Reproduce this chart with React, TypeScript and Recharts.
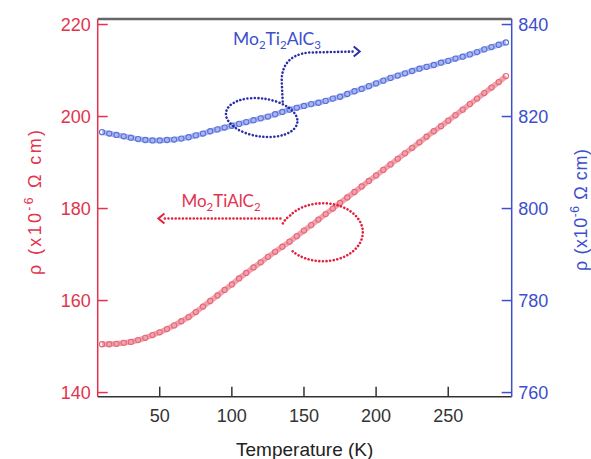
import React from 'react';
import { LineChart, Line, XAxis, YAxis, ReferenceDot, ReferenceLine, Label } from 'recharts';

// Temperature (K)
const temperatures = [
  10, 15, 20, 25, 30, 35, 40, 45, 50, 55, 60, 65, 70, 75, 80, 85, 90, 95, 100,
  105, 110, 115, 120, 125, 130, 135, 140, 145, 150, 155, 160, 165, 170, 175, 180,
  185, 190, 195, 200, 205, 210, 215, 220, 225, 230, 235, 240, 245, 250, 255, 260,
  265, 270, 275, 280, 285, 290,
];
// Mo2TiAlC2 resistivity (left axis, x10^-6 ohm cm)
const rhoMo2TiAlC2 = [
  150.5, 150.5, 150.6, 150.8, 151.0, 151.4, 151.9, 152.5, 153.1, 153.8, 154.6, 155.5, 156.4, 157.5, 158.7, 159.9, 161.1, 162.3, 163.5,
  164.8, 166.0, 167.2, 168.3, 169.5, 170.6, 171.7, 172.8, 174.0, 175.2, 176.4, 177.6, 178.8, 180.0, 181.2, 182.4,
  183.6, 184.8, 186.0, 187.2, 188.4, 189.6, 190.8, 192.0, 193.2, 194.4, 195.6, 196.8, 197.9, 199.1, 200.3, 201.5,
  202.7, 203.9, 205.1, 206.3, 207.5, 208.8,
];
// Mo2Ti2AlC3 resistivity (right axis, x10^-6 ohm cm)
const rhoMo2Ti2AlC3 = [
  816.6, 816.3, 816.0, 815.7, 815.4, 815.1, 814.9, 814.8, 814.8, 814.9, 815.0, 815.2, 815.5, 815.9, 816.3, 816.8, 817.2, 817.6, 818.0,
  818.4, 818.8, 819.2, 819.6, 820.0, 820.5, 821.0, 821.5, 821.9, 822.3, 822.7, 823.0, 823.4, 823.9, 824.3, 824.9,
  825.5, 826.0, 826.6, 827.2, 827.8, 828.4, 828.9, 829.4, 829.9, 830.4, 830.8, 831.2, 831.7, 832.1, 832.6, 833.0,
  833.5, 834.0, 834.6, 835.1, 835.6, 836.1,
];

const xTicks = [50, 100, 150, 200, 250];
const leftTicks = [140, 160, 180, 200, 220];
const rightTicks = [760, 780, 800, 820, 840];
const xDomain = [7, 294];
const leftDomain = [139.1, 221.2];
const rightDomain = [759.1, 841.2];

const xTitle = 'Temperature (K)';
const yTitleMain = 'ρ (x10';
const yTitleSup = '-6';
const yTitleRest = ' Ω cm)';

// annotation anchors (data coordinates)
const blueAnchor = { T: 120, rho: 820 };
const redAnchor = { T: 160, rho: 175 };

const data = temperatures.map((T, i) => ({ T, red: rhoMo2TiAlC2[i], blue: rhoMo2Ti2AlC3[i] }));

const RED_AXIS = '#e2344e';
const BLUE_AXIS = '#3c4fcc';
const RED_BAND = '#f2a2ac';
const RED_RING = '#e4697a';
const BLUE_BAND = '#a9b7f0';
const BLUE_RING = '#5a70da';
const BLUE_ANN = '#2a2fa8';
const RED_ANN = '#e41f3c';
const AXIS_FONT = '"Liberation Sans", Arial, sans-serif';
const ANN_FONT = 'Lato, "Open Sans", sans-serif';

const dotted = { fill: 'none', strokeWidth: 2.6, strokeDasharray: '0.01 3.6', strokeLinecap: 'round' as const };

const makeDot = (color: string) => (p: any) => (
  <circle key={p.key ?? `${p.cx}-${p.cy}`} cx={p.cx} cy={p.cy} r={2.6} fill="none" stroke={color} strokeWidth={1.1} />
);

const BlueAnnotation = (p: any) => {
  const { cx, cy } = p;
  if (cx == null || cy == null) return null;
  return (
    <g>
      <ellipse cx={cx + 1} cy={cy + 1} rx={36} ry={19} transform={`rotate(8 ${cx + 1} ${cy + 1})`} stroke={BLUE_ANN} {...dotted} />
      <path
        d={`M ${cx + 22} ${cy - 15} L ${cx + 21} ${cy - 36} C ${cx + 21} ${cy - 50} ${cx + 28} ${cy - 62} ${cx + 48} ${cy - 64} L ${cx + 95} ${cy - 65}`}
        stroke={BLUE_ANN}
        {...dotted}
      />
      <path d={`M ${cx + 93} ${cy - 70} L ${cx + 99} ${cy - 65} L ${cx + 93} ${cy - 60}`} stroke={BLUE_ANN} strokeWidth={2} fill="none" />
      <text x={cx - 27.7} y={cy - 71.7} fill={BLUE_AXIS} fontFamily={ANN_FONT} fontSize={17.5}>
        Mo<tspan dy={4} fontSize={11.5}>2</tspan>
        <tspan dy={-4}>Ti</tspan>
        <tspan dy={4} fontSize={11.5}>2</tspan>
        <tspan dy={-4}>AlC</tspan>
        <tspan dy={4} fontSize={11.5}>3</tspan>
      </text>
    </g>
  );
};

const RedAnnotation = (p: any) => {
  const { cx, cy } = p;
  if (cx == null || cy == null) return null;
  const ex = cx + 4.4;
  const ey = cy + 0.7;
  const rx = 40;
  const ry = 29;
  const a0 = (139 * Math.PI) / 180;
  const a1 = (215 * Math.PI) / 180;
  const sx = ex + rx * Math.cos(a0);
  const sy = ey + ry * Math.sin(a0);
  const tx = ex + rx * Math.cos(a1);
  const ty = ey + ry * Math.sin(a1);
  return (
    <g>
      <path
        d={`M ${sx} ${sy} A ${rx} ${ry} 0 1 0 ${tx} ${ty} Q ${cx - 34} ${cy - 12} ${cx - 36} ${cy - 7}`}
        stroke={RED_ANN}
        {...dotted}
      />
      <path d={`M ${cx - 38} ${cy - 13} L ${cx - 157} ${cy - 13}`} stroke={RED_ANN} {...dotted} />
      <path d={`M ${cx - 154} ${cy - 18} L ${cx - 160} ${cy - 13} L ${cx - 154} ${cy - 8}`} stroke={RED_ANN} strokeWidth={2} fill="none" />
      <text x={cx - 137} y={cy - 24.6} fill={RED_AXIS} fontFamily={ANN_FONT} fontSize={17}>
        Mo<tspan dy={4} fontSize={11.5}>2</tspan>
        <tspan dy={-4}>TiAlC</tspan>
        <tspan dy={4} fontSize={11.5}>2</tspan>
      </text>
    </g>
  );
};

const YTitle = ({ x, y, color, length }: { x: number; y: number; color: string; length: number }) => (
  <text
    x={x}
    y={y}
    transform={`rotate(-90 ${x} ${y})`}
    textAnchor="middle"
    fill={color}
    fontFamily={AXIS_FONT}
    fontSize={18}
    textLength={length}
    lengthAdjust="spacing"
  >
    {yTitleMain}
    <tspan dy={-8} fontSize={12}>{yTitleSup}</tspan>
    <tspan dy={8}>{yTitleRest}</tspan>
  </text>
);

export default function App() {
  return (
    <div style={{ position: 'absolute', left: 0, top: 0, width: 591, height: 459, background: '#fff' }}>
      <LineChart width={591} height={459} data={data} margin={{ top: 19, right: 0, bottom: 0, left: 0 }}>
        <XAxis
          dataKey="T"
          type="number"
          domain={xDomain}
          ticks={xTicks}
          allowDataOverflow
          height={62.3}
          tickSize={-10}
          tickMargin={22.4}
          axisLine={{ stroke: '#333', strokeWidth: 1.5 }}
          tickLine={{ stroke: '#333', strokeWidth: 1.5 }}
          tick={{ fill: '#333', fontSize: 18, fontFamily: AXIS_FONT }}
        >
          <Label
            content={(props: any) => {
              const vb = props.viewBox || { x: 97.7, y: 396.7, width: 414 };
              return (
                <text x={vb.x + vb.width / 2} y={vb.y + 59} textAnchor="middle" fill="#222" fontFamily={AXIS_FONT} fontSize={19}>
                  {xTitle}
                </text>
              );
            }}
          />
        </XAxis>
        <YAxis
          yAxisId="left"
          orientation="left"
          domain={leftDomain}
          ticks={leftTicks}
          allowDataOverflow
          width={97.7}
          tickSize={-10}
          tickMargin={17}
          axisLine={{ stroke: RED_AXIS, strokeWidth: 1.5 }}
          tickLine={{ stroke: RED_AXIS, strokeWidth: 1.5 }}
          tick={{ fill: RED_AXIS, fontSize: 18, fontFamily: AXIS_FONT }}
        >
          <Label
            content={(props: any) => {
              const vb = props.viewBox || { x: 0, y: 19 };
              return <YTitle x={vb.x + 41} y={vb.y + 183.5} color={RED_AXIS} length={145} />;
            }}
          />
        </YAxis>
        <YAxis
          yAxisId="right"
          orientation="right"
          domain={rightDomain}
          ticks={rightTicks}
          allowDataOverflow
          width={79.3}
          tickSize={-10}
          tickMargin={16.6}
          axisLine={{ stroke: BLUE_AXIS, strokeWidth: 1.5 }}
          tickLine={{ stroke: BLUE_AXIS, strokeWidth: 1.5 }}
          tick={{ fill: BLUE_AXIS, fontSize: 18, fontFamily: AXIS_FONT }}
        >
          <Label
            content={(props: any) => {
              const vb = props.viewBox || { x: 511.7, y: 19 };
              return <YTitle x={vb.x + 75.5} y={vb.y + 191} color={BLUE_AXIS} length={122} />;
            }}
          />
        </YAxis>
        <ReferenceLine yAxisId="left" y={leftDomain[1]} stroke="#666" strokeWidth={2.5} />
        <Line
          yAxisId="right"
          dataKey="blue"
          type="monotone"
          stroke={BLUE_BAND}
          strokeWidth={5.5}
          dot={makeDot(BLUE_RING)}
          activeDot={false}
          isAnimationActive={false}
        />
        <Line
          yAxisId="left"
          dataKey="red"
          type="monotone"
          stroke={RED_BAND}
          strokeWidth={5.5}
          dot={makeDot(RED_RING)}
          activeDot={false}
          isAnimationActive={false}
        />
        <ReferenceDot yAxisId="right" x={blueAnchor.T} y={blueAnchor.rho} r={0} shape={BlueAnnotation} />
        <ReferenceDot yAxisId="left" x={redAnchor.T} y={redAnchor.rho} r={0} shape={RedAnnotation} />
      </LineChart>
    </div>
  );
}
